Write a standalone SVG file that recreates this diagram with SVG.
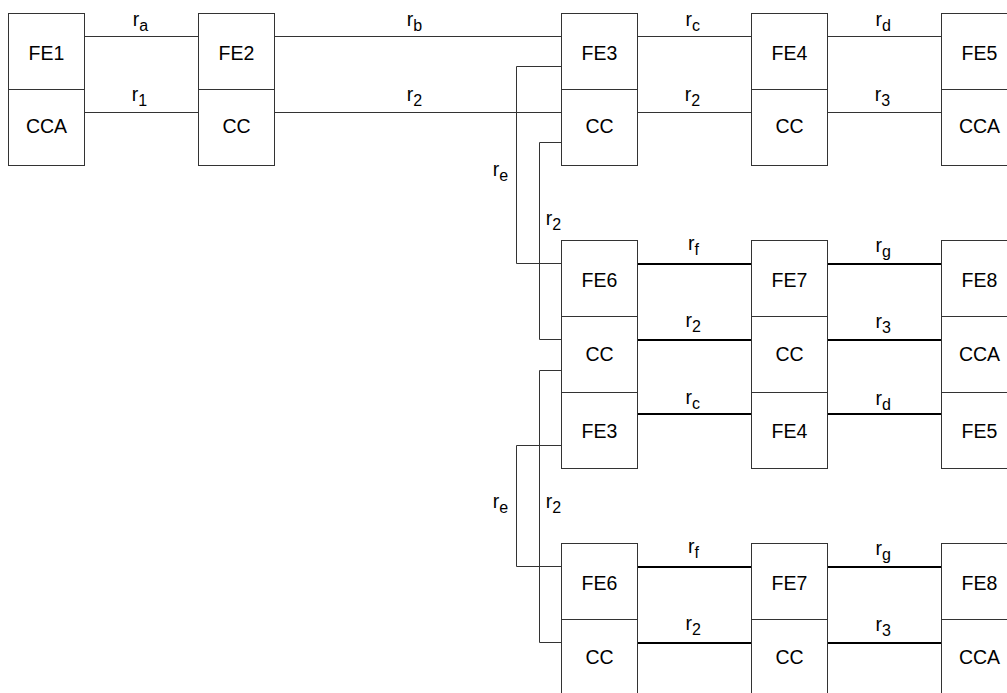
<svg xmlns="http://www.w3.org/2000/svg" width="1007" height="693" viewBox="0 0 1007 693">
<style>
.box{fill:#fff;stroke:#333;stroke-width:1}
.div{stroke:#333;stroke-width:1}
.t{font-family:"Liberation Sans",Arial,sans-serif;font-size:19.5px;fill:#000;text-anchor:middle}
.l{font-family:"Liberation Sans",Arial,sans-serif;font-size:19.5px;fill:#000}
.s{font-size:16px}
.c1{fill:none;stroke:#333;stroke-width:1}
.c2{fill:none;stroke:#000;stroke-width:2}
</style>
<rect width="1007" height="693" fill="#fff"/>
<g id="connectors">
<path class="c1" d="M84.5 36.5H198.5M274.5 36.5H561.5M637.5 36.5H751.5M827.5 36.5H941.5"/>
<path class="c1" d="M84.5 112.5H198.5M274.5 112.5H561.5M637.5 112.5H751.5M827.5 112.5H941.5"/>
<path class="c1" d="M561.5 66.5H516.5V263.5H561.5"/>
<path class="c1" d="M561.5 142.5H539.5V339.5H561.5"/>
<path class="c1" d="M561.5 370.5H539.5V642.5H561.5"/>
<path class="c1" d="M561.5 445.5H516.5V566.5H561.5"/>
<path class="c2" d="M637.5 264H751.5M827.5 264H941.5"/>
<path class="c2" d="M637.5 340H751.5M827.5 340H941.5"/>
<path class="c2" d="M637.5 414H751.5M827.5 414H941.5"/>
<path class="c2" d="M637.5 567H751.5M827.5 567H941.5"/>
<path class="c2" d="M637.5 643H751.5M827.5 643H941.5"/>
</g>
<g id="labels">
<text class="l" x="132.7" y="26">r<tspan class="s" dy="4.5">a</tspan></text>
<text class="l" x="406.7" y="26">r<tspan class="s" dy="4.5">b</tspan></text>
<text class="l" x="685.4" y="26">r<tspan class="s" dy="4.5">c</tspan></text>
<text class="l" x="875.4" y="26">r<tspan class="s" dy="4.5">d</tspan></text>
<text class="l" x="131.7" y="101">r<tspan class="s" dy="4.5">1</tspan></text>
<text class="l" x="406.7" y="101">r<tspan class="s" dy="4.5">2</tspan></text>
<text class="l" x="684.7" y="101">r<tspan class="s" dy="4.5">2</tspan></text>
<text class="l" x="874.7" y="101">r<tspan class="s" dy="4.5">3</tspan></text>
<text class="l" x="492.7" y="176">r<tspan class="s" dy="4.5">e</tspan></text>
<text class="l" x="545.7" y="225">r<tspan class="s" dy="4.5">2</tspan></text>
<text class="l" x="688" y="250">r<tspan class="s" dy="4.5">f</tspan></text>
<text class="l" x="875.4" y="252">r<tspan class="s" dy="4.5">g</tspan></text>
<text class="l" x="685.4" y="327">r<tspan class="s" dy="4.5">2</tspan></text>
<text class="l" x="875.4" y="328">r<tspan class="s" dy="4.5">3</tspan></text>
<text class="l" x="685.4" y="404">r<tspan class="s" dy="4.5">c</tspan></text>
<text class="l" x="875.4" y="405">r<tspan class="s" dy="4.5">d</tspan></text>
<text class="l" x="492.7" y="508">r<tspan class="s" dy="4.5">e</tspan></text>
<text class="l" x="545.7" y="508">r<tspan class="s" dy="4.5">2</tspan></text>
<text class="l" x="688" y="553">r<tspan class="s" dy="4.5">f</tspan></text>
<text class="l" x="875.4" y="555">r<tspan class="s" dy="4.5">g</tspan></text>
<text class="l" x="685.4" y="630">r<tspan class="s" dy="4.5">2</tspan></text>
<text class="l" x="875.4" y="631">r<tspan class="s" dy="4.5">3</tspan></text>
</g>
<g id="node1"><rect class="box" x="8.5" y="13.5" width="76" height="152"/><path class="div" d="M8.5 89.5H84.5"/><text class="t" x="46.5" y="60">FE1</text><text class="t" x="46.5" y="132.5">CCA</text></g>
<g id="node2"><rect class="box" x="198.5" y="13.5" width="76" height="152"/><path class="div" d="M198.5 89.5H274.5"/><text class="t" x="236.5" y="60">FE2</text><text class="t" x="236.5" y="132.5">CC</text></g>
<g id="node3"><rect class="box" x="561.5" y="13.5" width="76" height="152"/><path class="div" d="M561.5 89.5H637.5"/><text class="t" x="599.5" y="60">FE3</text><text class="t" x="599.5" y="132.5">CC</text></g>
<g id="node4"><rect class="box" x="751.5" y="13.5" width="76" height="152"/><path class="div" d="M751.5 89.5H827.5"/><text class="t" x="789.5" y="60">FE4</text><text class="t" x="789.5" y="132.5">CC</text></g>
<g id="node5"><rect class="box" x="941.5" y="13.5" width="76" height="152"/><path class="div" d="M941.5 89.5H1017.5"/><text class="t" x="979.5" y="60">FE5</text><text class="t" x="979.5" y="132.5">CCA</text></g>
<g id="node6"><rect class="box" x="561.5" y="240.5" width="76" height="228"/><path class="div" d="M561.5 316.5H637.5M561.5 392.5H637.5"/><text class="t" x="599.5" y="286.5">FE6</text><text class="t" x="599.5" y="360.5">CC</text><text class="t" x="599.5" y="437.5">FE3</text></g>
<g id="node7"><rect class="box" x="751.5" y="240.5" width="76" height="228"/><path class="div" d="M751.5 316.5H827.5M751.5 392.5H827.5"/><text class="t" x="789.5" y="286.5">FE7</text><text class="t" x="789.5" y="360.5">CC</text><text class="t" x="789.5" y="437.5">FE4</text></g>
<g id="node8"><rect class="box" x="941.5" y="240.5" width="76" height="228"/><path class="div" d="M941.5 316.5H1017.5M941.5 392.5H1017.5"/><text class="t" x="979.5" y="286.5">FE8</text><text class="t" x="979.5" y="360.5">CCA</text><text class="t" x="979.5" y="437.5">FE5</text></g>
<g id="node9"><rect class="box" x="561.5" y="543.5" width="76" height="152"/><path class="div" d="M561.5 619.5H637.5"/><text class="t" x="599.5" y="590">FE6</text><text class="t" x="599.5" y="663.5">CC</text></g>
<g id="node10"><rect class="box" x="751.5" y="543.5" width="76" height="152"/><path class="div" d="M751.5 619.5H827.5"/><text class="t" x="789.5" y="590">FE7</text><text class="t" x="789.5" y="663.5">CC</text></g>
<g id="node11"><rect class="box" x="941.5" y="543.5" width="76" height="152"/><path class="div" d="M941.5 619.5H1017.5"/><text class="t" x="979.5" y="590">FE8</text><text class="t" x="979.5" y="663.5">CCA</text></g>
</svg>
